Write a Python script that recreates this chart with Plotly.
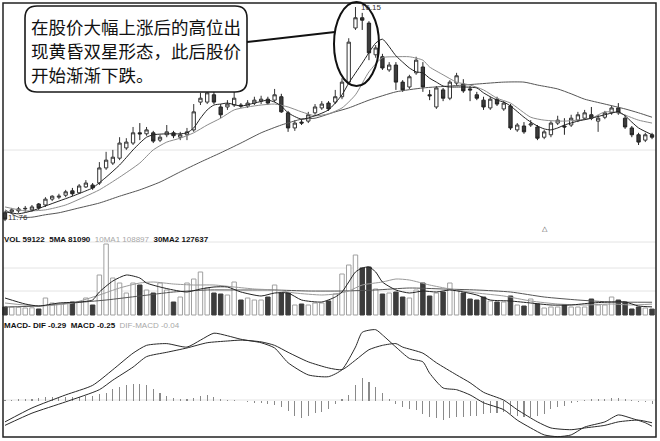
import plotly.graph_objects as go

W, H = 660, 441

# ---------------- data ----------------
idx = list(range(97))
opens = [11.93,11.95,11.97,12.01,11.99,12.11,12.09,12.21,12.25,12.29,
         12.38,12.34,12.46,12.50,12.54,12.85,12.95,13.05,13.26,13.36,
         13.57,13.55,13.57,13.42,13.53,13.57,13.48,13.53,13.63,14.20,
         14.20,14.35,14.10,14.10,14.14,14.14,14.12,14.18,14.22,14.26,
         14.24,14.31,13.98,13.67,13.79,13.81,13.98,14.08,14.18,14.20,
         14.31,14.61,15.72,15.93,15.82,15.17,15.13,14.86,14.96,14.61,
         14.51,14.80,14.92,14.35,14.10,14.45,14.28,14.59,14.57,14.47,
         14.35,14.24,14.08,14.26,14.06,14.12,13.63,13.71,13.73,13.69,
         13.48,13.53,13.77,13.71,13.73,13.83,13.87,13.94,13.81,13.89,
         13.98,14.08,13.87,13.67,13.53,13.42,13.53]
highs = [11.97,12.03,12.05,12.07,12.09,12.13,12.25,12.29,12.32,12.40,
         12.44,12.52,12.60,12.54,12.97,13.18,13.22,13.48,13.46,13.69,
         13.77,13.69,13.61,13.53,13.73,13.61,13.59,13.67,14.16,14.39,
         14.45,14.41,14.16,14.24,14.41,14.18,14.24,14.31,14.33,14.31,
         14.47,14.37,14.02,13.83,13.85,14.00,14.16,14.22,14.22,14.45,
         14.69,15.51,16.15,16.03,15.86,15.37,15.19,15.02,15.02,14.65,
         14.76,15.13,15.02,14.45,14.53,14.49,14.65,14.80,14.67,14.53,
         14.41,14.31,14.31,14.31,14.22,14.16,13.77,13.79,13.83,13.73,
         13.63,13.81,13.92,13.87,13.94,14.00,14.04,14.10,13.94,14.02,
         14.12,14.18,13.94,13.71,13.57,13.57,13.57]
lows = [11.76,11.91,11.93,11.95,11.95,11.99,12.05,12.17,12.21,12.25,
        12.27,12.32,12.44,12.40,12.50,12.81,12.91,13.01,13.22,13.32,
        13.42,13.51,13.36,13.38,13.48,13.46,13.42,13.42,13.59,14.14,
        14.16,14.16,13.87,14.04,14.10,14.08,14.08,14.14,14.16,14.14,
        14.20,13.98,13.59,13.61,13.73,13.77,13.94,14.04,14.02,14.16,
        14.26,14.57,15.68,15.68,15.06,15.11,14.86,14.82,14.45,14.41,
        14.47,14.76,14.41,14.24,14.06,14.22,14.24,14.55,14.39,14.22,
        14.24,14.04,14.04,14.12,14.02,13.63,13.59,13.55,13.69,13.42,
        13.44,13.48,13.73,13.53,13.69,13.79,13.83,13.83,13.59,13.85,
        13.94,13.94,13.65,13.48,13.32,13.38,13.44]
closes = [11.80,11.99,12.01,12.02,12.05,12.03,12.21,12.27,12.27,12.36,
          12.32,12.48,12.54,12.44,12.85,13.01,13.07,13.36,13.38,13.57,
          13.55,13.63,13.40,13.48,13.59,13.51,13.53,13.59,14.00,14.28,
          14.39,14.20,13.94,14.16,14.28,14.12,14.18,14.24,14.26,14.18,
          14.35,14.00,13.67,13.77,13.77,13.94,14.10,14.16,14.06,14.31,
          14.61,15.43,15.93,15.88,15.21,15.31,14.90,14.96,14.61,14.45,
          14.72,15.06,14.51,14.33,14.49,14.28,14.61,14.74,14.43,14.45,
          14.28,14.10,14.26,14.16,14.18,13.67,13.73,13.59,13.75,13.46,
          13.59,13.77,13.83,13.69,13.87,13.94,13.98,13.87,13.87,13.98,
          14.08,13.98,13.69,13.53,13.38,13.53,13.48]

ma5_idx = [0,2,4,6,8,10,12,13,15,17,19,20,21,22,24,26,27,28,29,30,31,32,33,35,37,39,40,41,42,44,
           46,48,50,51,53,55,56,58,59,60,61,62,63,64,65,66,68,70,71,72,73,74,75,77,78,79,80,81,82,83,
           85,87,89,91,92,93,94,96]
ma5_val = [11.95,11.91,11.97,12.07,12.17,12.27,12.38,12.44,12.66,12.91,13.22,13.36,13.48,13.53,13.55,13.55,13.57,13.67,13.87,14.04,
           14.14,14.16,14.18,14.12,14.18,14.24,14.20,14.12,13.98,13.85,13.92,14.04,14.35,14.59,15.00,15.41,15.49,15.15,15.02,14.90,
           14.82,14.80,14.69,14.61,14.53,14.51,14.51,14.49,14.39,14.31,14.24,14.20,14.12,13.89,13.79,13.71,13.65,13.63,13.67,13.73,
           13.81,13.87,13.94,14.00,13.92,13.79,13.67,13.53]
ma10_idx = [0,3,6,9,12,14,17,20,22,24,26,28,30,32,34,36,38,40,42,44,46,48,50,52,54,56,58,60,62,63,
            65,67,69,71,73,75,78,80,83,87,89,91,94,96]
ma10_val = [12.05,11.97,11.99,12.09,12.27,12.40,12.66,12.95,13.22,13.38,13.46,13.57,13.73,13.87,14.04,14.10,14.14,14.16,14.10,14.00,
            13.92,13.96,14.08,14.35,14.82,15.11,15.13,15.13,15.06,14.92,14.76,14.61,14.55,14.45,14.28,14.18,13.89,13.83,13.81,13.87,
            14.00,13.98,13.83,13.77]
ma30_idx = [0,1,2,4,6,8,11,14,17,20,23,26,29,32,35,38,41,44,46,49,51,54,58,62,66,70,74,77,79,82,84,86,89,92,94,96]
ma30_val = [11.99,11.91,11.84,11.84,11.89,11.93,12.03,12.13,12.27,12.40,12.56,12.77,12.97,13.16,13.36,13.57,13.73,13.85,13.87,14.00,
            14.08,14.24,14.41,14.49,14.53,14.57,14.61,14.61,14.55,14.47,14.37,14.26,14.16,14.06,13.98,13.89]

volumes = [80000,80000,78000,70000,72000,60000,170000,120000,110000,120000,
           130000,130000,170000,100000,400000,710000,370000,320000,220000,320000,
           300000,250000,220000,320000,250000,130000,180000,320000,360000,430000,
           270000,220000,210000,200000,330000,150000,170000,150000,150000,180000,
           300000,220000,220000,100000,110000,100000,120000,120000,140000,210000,
           410000,500000,600000,470000,480000,260000,210000,220000,230000,180000,
           170000,250000,320000,190000,220000,230000,320000,250000,220000,160000,
           150000,180000,140000,130000,130000,190000,100000,90000,160000,110000,
           70000,80000,80000,100000,80000,80000,80000,160000,100000,100000,
           180000,150000,130000,60000,80000,70000,59122]
vma5_idx = [0,3,5,8,11,13,14,16,18,20,21,23,25,27,29,31,33,35,38,40,42,44,47,49,50,51,52,53,54,55,
            56,58,60,62,64,66,68,70,72,75,78,81,84,87,90,92,94,96]
vma5_val = [170000,110000,90000,120000,130000,150000,230000,340000,400000,370000,320000,280000,250000,230000,260000,
            280000,280000,230000,190000,220000,220000,150000,130000,180000,230000,330000,430000,470000,480000,430000,
            330000,250000,220000,240000,230000,250000,230000,200000,150000,140000,120000,100000,100000,120000,130000,
            130000,90000,81090]
vma10_idx = [0,5,10,14,17,20,22,25,28,31,34,37,40,43,47,49,51,53,56,58,60,63,66,70,74,78,82,86,90,93,96]
vma10_val = [120000,90000,120000,200000,270000,320000,330000,310000,300000,300000,280000,260000,250000,220000,200000,
             210000,240000,300000,330000,360000,350000,300000,260000,220000,190000,140000,110000,100000,110000,100000,108897]
vma30_idx = [0,5,10,15,20,25,30,35,40,45,50,55,60,65,70,75,80,85,90,96]
vma30_val = [80000,90000,120000,150000,190000,230000,250000,250000,250000,240000,240000,250000,270000,260000,250000,
             230000,180000,150000,130000,127637]

dif_idx = [0,4,9,13,16,19,21,24,27,29,31,33,35,38,40,42,45,48,50,52,53,55,56,58,60,62,63,65,67,69,
           71,74,76,78,80,82,84,86,89,91,93,95,96]
dif_val = [-0.24,-0.08,0.07,0.18,0.36,0.55,0.64,0.66,0.62,0.70,0.78,0.75,0.71,0.67,0.61,0.44,0.30,0.28,0.36,0.62,
           0.79,0.82,0.76,0.62,0.49,0.45,0.32,0.15,0.13,0.07,-0.02,-0.10,-0.22,-0.31,-0.39,-0.41,-0.39,-0.30,-0.24,-0.16,
           -0.20,-0.25,-0.29]
dea_idx = [0,4,9,14,16,19,21,24,27,30,33,35,38,40,42,45,48,50,52,54,56,58,59,62,64,67,69,71,74,76,79,81,84,86,89,91,94,96]
dea_val = [-0.28,-0.14,-0.01,0.13,0.24,0.39,0.51,0.56,0.61,0.67,0.69,0.70,0.68,0.64,0.56,0.45,0.38,0.36,0.47,0.59,
           0.64,0.66,0.62,0.55,0.44,0.30,0.21,0.10,0.01,-0.10,-0.24,-0.31,-0.33,-0.31,-0.28,-0.24,-0.22,-0.25]
macd_hist = [0.01,0.01,0.02,0.02,0.02,0.03,0.05,0.05,0.05,0.05,
             0.05,0.05,0.06,0.06,0.08,0.09,0.14,0.16,0.18,0.20,
             0.20,0.18,0.14,0.09,0.06,0.03,0.02,0.02,0.03,0.06,
             0.07,0.05,0.02,0.01,0.01,0.005,-0.01,-0.02,-0.02,-0.03,
             -0.05,-0.07,-0.12,-0.17,-0.20,-0.17,-0.14,-0.13,-0.09,-0.03,
             0.02,0.07,0.18,0.26,0.22,0.16,0.09,0.02,-0.03,-0.07,
             -0.09,-0.10,-0.15,-0.18,-0.20,-0.22,-0.20,-0.18,-0.18,-0.17,
             -0.17,-0.15,-0.14,-0.14,-0.13,-0.15,-0.17,-0.18,-0.18,-0.17,
             -0.15,-0.09,-0.07,-0.06,-0.02,-0.01,0.01,0.02,0.02,0.02,
             0.03,0.03,0.02,0.01,-0.01,-0.01,-0.04]

note_lines = ["在股价大幅上涨后的高位出", "现黄昏双星形态，此后股价", "开始渐渐下跌。"]
high_label = "16.15"
low_label = "11.76"
vol_label = ("<b>VOL 59122  5MA 81090</b>  <span style='color:#a8a8a8'>10MA1 108897</span>"
             "  <b>30MA2 127637</b>")
macd_label = ("<b>MACD- DIF -0.29  MACD -0.25</b>  <span style='color:#a8a8a8'>DIF-MACD -0.04</span>")

# ---------------- figure ----------------
def px(x):
    return x / W

def py(y):
    return 1 - y / H

fig = go.Figure()

fig.add_trace(go.Candlestick(
    x=idx, open=opens, high=highs, low=lows, close=closes,
    xaxis="x", yaxis="y", whiskerwidth=0, showlegend=False, hoverinfo="skip",
    increasing=dict(line=dict(color="#333333", width=1), fillcolor="#ffffff"),
    decreasing=dict(line=dict(color="#222222", width=1), fillcolor="#3c3c3c"),
))
for xs, ys, col in [(ma30_idx, ma30_val, "#555555"), (ma10_idx, ma10_val, "#8c8c8c"),
                    (ma5_idx, ma5_val, "#222222")]:
    fig.add_trace(go.Scatter(x=xs, y=ys, mode="lines", xaxis="x", yaxis="y",
                             line=dict(color=col, width=1, shape="spline", smoothing=0.6),
                             showlegend=False, hoverinfo="skip"))

up = [c >= o for o, c in zip(opens, closes)]
fig.add_trace(go.Bar(
    x=idx, y=volumes, xaxis="x", yaxis="y2", width=0.66, showlegend=False, hoverinfo="skip",
    marker=dict(color=["#ffffff" if u else "#3c3c3c" for u in up],
                line=dict(color=["#a0a0a0" if u else "#3c3c3c" for u in up], width=1)),
))
for xs, ys, col in [(vma30_idx, vma30_val, "#555555"), (vma10_idx, vma10_val, "#9a9a9a"),
                    (vma5_idx, vma5_val, "#222222")]:
    fig.add_trace(go.Scatter(x=xs, y=ys, mode="lines", xaxis="x", yaxis="y2",
                             line=dict(color=col, width=1, shape="spline", smoothing=0.6),
                             showlegend=False, hoverinfo="skip"))

fig.add_trace(go.Bar(x=idx, y=macd_hist, xaxis="x", yaxis="y3", width=0.16,
                     marker=dict(color="#8a8a8a", line=dict(width=0)),
                     showlegend=False, hoverinfo="skip"))
for xs, ys in [(dea_idx, dea_val), (dif_idx, dif_val)]:
    fig.add_trace(go.Scatter(x=xs, y=ys, mode="lines", xaxis="x", yaxis="y3",
                             line=dict(color="#2a2a2a", width=1, shape="spline", smoothing=0.6),
                             showlegend=False, hoverinfo="skip"))

hidden = dict(showgrid=False, zeroline=False, showticklabels=False, showline=False, ticks="")
shapes = []
# light horizontal grid lines
for gy in [150, 242, 268, 291, 400]:
    shapes.append(dict(type="line", xref="paper", yref="paper", x0=px(3), x1=px(656),
                       y0=py(gy), y1=py(gy), line=dict(color="#e4e4e4", width=1), layer="below"))
# outer frame
shapes.append(dict(type="rect", xref="paper", yref="paper", x0=px(3), x1=px(656),
                   y0=py(437), y1=py(3), line=dict(color="#222222", width=1.5)))
# rounded callout box
bx0, bx1, by0, by1, r = 25, 247, 6, 92, 12
path = (f"M {px(bx0+r)},{py(by0)} L {px(bx1-r)},{py(by0)} Q {px(bx1)},{py(by0)} {px(bx1)},{py(by0+r)} "
        f"L {px(bx1)},{py(by1-r)} Q {px(bx1)},{py(by1)} {px(bx1-r)},{py(by1)} "
        f"L {px(bx0+r)},{py(by1)} Q {px(bx0)},{py(by1)} {px(bx0)},{py(by1-r)} "
        f"L {px(bx0)},{py(by0+r)} Q {px(bx0)},{py(by0)} {px(bx0+r)},{py(by0)} Z")
shapes.append(dict(type="path", xref="paper", yref="paper", path=path,
                   line=dict(color="#1a1a1a", width=1.6), fillcolor="#ffffff"))
# connector and ellipse
shapes.append(dict(type="line", xref="paper", yref="paper", x0=px(247), y0=py(42), x1=px(335), y1=py(32),
                   line=dict(color="#111111", width=2)))
shapes.append(dict(type="circle", xref="paper", yref="paper", x0=px(334), x1=px(379),
                   y0=py(86), y1=py(2), line=dict(color="#111111", width=2)))

annotations = []
for k, t in enumerate(note_lines):
    annotations.append(dict(text=t, xref="paper", yref="paper", x=px(29), y=py(26 + 24.5 * k),
                            xanchor="left", yanchor="middle", showarrow=False,
                            font=dict(family="Noto Sans CJK SC", size=17.5, color="#111111")))
small = dict(family="Liberation Sans Narrow, Liberation Sans, Arial", size=8, color="#333333")
annotations.append(dict(text=high_label, xref="paper", yref="paper", x=px(359), y=py(8),
                        xanchor="left", yanchor="middle", showarrow=False, font=small))
annotations.append(dict(text=low_label, xref="paper", yref="paper", x=px(6), y=py(217),
                        xanchor="left", yanchor="middle", showarrow=False, font=small))
annotations.append(dict(text="△", xref="paper", yref="paper", x=px(545), y=py(229),
                        xanchor="center", yanchor="middle", showarrow=False,
                        font=dict(family="DejaVu Sans", size=7, color="#444444")))
lab = dict(family="Liberation Sans Narrow, Liberation Sans, Arial", size=8, color="#111111")
annotations.append(dict(text=vol_label, xref="paper", yref="paper", x=px(2), y=py(239),
                        xanchor="left", yanchor="middle", showarrow=False, font=lab))
annotations.append(dict(text=macd_label, xref="paper", yref="paper", x=px(2), y=py(325),
                        xanchor="left", yanchor="middle", showarrow=False, font=lab))

fig.update_layout(
    width=W, height=H, autosize=False,
    margin=dict(l=0, r=0, t=0, b=0, pad=0),
    paper_bgcolor="#ffffff", plot_bgcolor="#ffffff",
    showlegend=False, barmode="overlay", bargap=0,
    xaxis=dict(range=[-5 / 6.74, 655 / 6.74], domain=[0, 1], anchor="y3",
               rangeslider=dict(visible=False), fixedrange=True, **hidden),
    yaxis=dict(domain=[py(230), 1], range=[11.577, 16.294], anchor="x", fixedrange=True, **hidden),
    yaxis2=dict(domain=[py(318), py(230)], range=[-30000, 850000], anchor="x", fixedrange=True, **hidden),
    yaxis3=dict(domain=[0, py(318)], range=[-0.46, 0.9545], anchor="x", fixedrange=True, **hidden),
    shapes=shapes, annotations=annotations,
)

fig.write_html("out.html", config={"displayModeBar": False, "staticPlot": True},
               post_script="document.body.style.margin='0';document.body.style.overflow='hidden';")
